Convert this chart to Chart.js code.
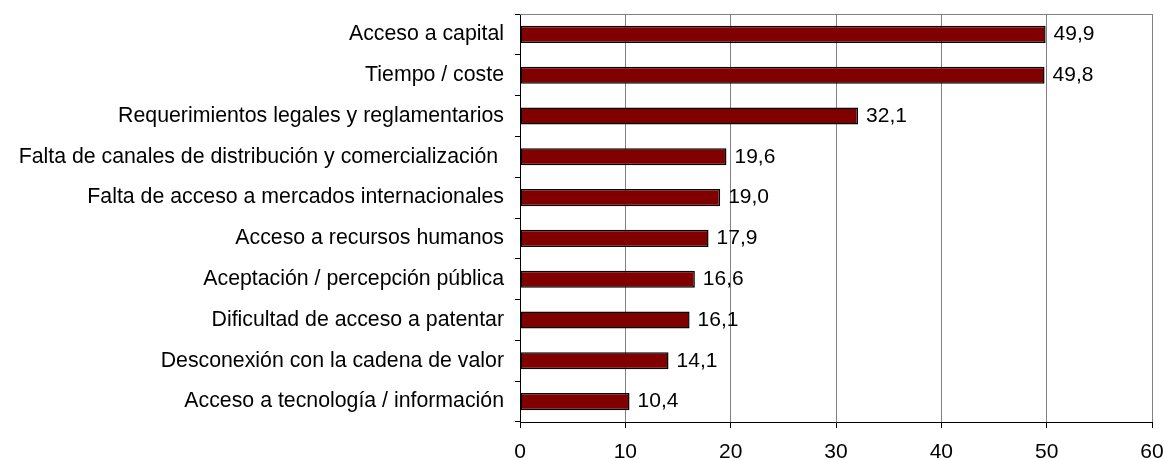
<!DOCTYPE html>
<html>
<head>
<meta charset="utf-8">
<script src="https://cdn.jsdelivr.net/npm/chart.js@4"></script>
<style>
    html, body { margin: 0; padding: 0; background: #fff; }
    #wrap { width: 1165px; height: 460px; }
</style>
</head>
<body>
<div id="wrap"><canvas id="chart" width="1165" height="460"></canvas></div>
<script>
// Barreras (en %)
const categories = [
    'Acceso a capital',
    'Tiempo / coste',
    'Requerimientos legales y reglamentarios',
    'Falta de canales de distribución y comercialización ',
    'Falta de acceso a mercados internacionales',
    'Acceso a recursos humanos',
    'Aceptación / percepción pública',
    'Dificultad de acceso a patentar',
    'Desconexión con la cadena de valor',
    'Acceso a tecnología / información'
];
const values = [49.9, 49.8, 32.1, 19.6, 19.0, 17.9, 16.6, 16.1, 14.1, 10.4];
const xTicks = [0, 10, 20, 30, 40, 50, 60];

const FONT = 'Liberation Sans, Arial, sans-serif';

// value labels at the end of each bar
const valueLabels = {
    id: 'valueLabels',
    afterDatasetsDraw(chart) {
        const ctx = chart.ctx;
        const meta = chart.getDatasetMeta(0);
        ctx.save();
        ctx.font = '21px ' + FONT;
        ctx.fillStyle = '#000';
        ctx.textAlign = 'left';
        ctx.textBaseline = 'middle';
        meta.data.forEach((bar, i) => {
            const txt = values[i].toFixed(1).replace('.', ',');
            ctx.fillText(txt, bar.x + 8, bar.y);
        });
        ctx.restore();
    }
};

// gray frame on top and right of the plot area
const plotFrame = {
    id: 'plotFrame',
    beforeDatasetsDraw(chart) {
        const a = chart.chartArea;
        const ctx = chart.ctx;
        ctx.save();
        ctx.strokeStyle = '#808080';
        ctx.lineWidth = 1;
        ctx.beginPath();
        ctx.moveTo(a.left, a.top + 0.5);
        ctx.lineTo(a.right + 0.5, a.top + 0.5);
        ctx.lineTo(a.right + 0.5, a.bottom);
        ctx.stroke();
        ctx.restore();
    }
};

new Chart(document.getElementById('chart').getContext('2d'), {
    type: 'bar',
    data: {
        labels: categories,
        datasets: [{
            data: values,
            backgroundColor: '#800000',
            borderColor: '#000000',
            borderWidth: 1.5,
            borderSkipped: false,
            barPercentage: 0.42,
            categoryPercentage: 1
        }]
    },
    options: {
        indexAxis: 'y',
        responsive: false,
        animation: false,
        layout: { padding: { left: 10, top: 14, right: 13, bottom: 0 } },
        plugins: {
            legend: { display: false },
            tooltip: { enabled: false }
        },
        scales: {
            x: {
                min: xTicks[0],
                max: xTicks[xTicks.length - 1],
                afterBuildTicks(scale) {
                    scale.ticks = xTicks.map(v => ({ value: v }));
                },
                afterFit(scale) {
                    scale.height = 38;
                    scale.paddingLeft = 0;
                    scale.paddingRight = 0;
                },
                grid: {
                    color: '#808080',
                    tickColor: '#000',
                    tickLength: 6
                },
                border: { color: '#000', width: 1 },
                ticks: {
                    color: '#000',
                    padding: 12,
                    font: { family: FONT, size: 21 }
                }
            },
            y: {
                afterFit(scale) {
                    scale.width = 510;
                    scale.paddingTop = 0;
                    scale.paddingBottom = 0;
                },
                grid: {
                    drawOnChartArea: false,
                    color: '#000',
                    tickLength: 5,
                    offset: true
                },
                border: { color: '#000', width: 1 },
                ticks: {
                    color: '#000',
                    padding: 11,
                    autoSkip: false,
                    font: { family: FONT, size: 21.3 }
                }
            }
        }
    },
    plugins: [plotFrame, valueLabels]
});
</script>
</body>
</html>
